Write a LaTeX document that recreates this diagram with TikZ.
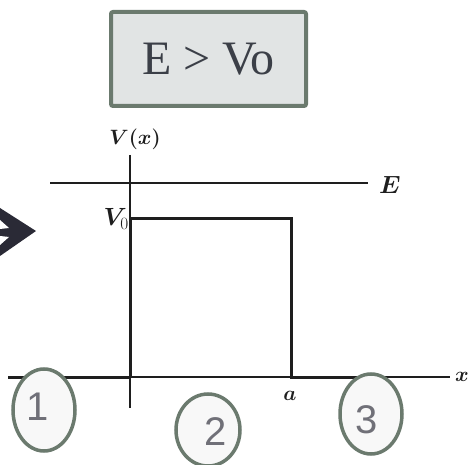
\documentclass[tikz,border=0pt]{standalone}
\usepackage{amsmath,bm}
\usepackage{fontspec}
\setmainfont{Liberation Serif}
\newfontfamily\digitfont{Liberation Sans}
\usetikzlibrary{positioning}
\definecolor{boxfill}{HTML}{E1E4E4}
\definecolor{slategreen}{HTML}{6B7A6E}
\definecolor{inkgray}{HTML}{3B3F47}
\definecolor{digitgray}{HTML}{707078}
\definecolor{ringfill}{HTML}{F8F8F8}
\definecolor{arrowink}{HTML}{2A2A36}
\definecolor{scanink}{HTML}{1E1E1E}

\begin{document}
\begin{tikzpicture}[x=1pt, y=-1pt,
  potential/.style={scanink, line width=3pt, line join=miter},
  axisline/.style={scanink, line width=1.4pt},
  ring/.style={draw=slategreen, line width=3.5pt, fill=ringfill},
  digit/.style={text=digitgray, font=\digitfont\fontsize{40}{42}\selectfont, inner sep=0pt},
  plotlabel/.style={text=scanink, inner sep=0pt}]

% Frame
\useasboundingbox (0,0) rectangle (469,465);

% Condition box
\node[draw=slategreen, line width=4pt, fill=boxfill, rounded corners=2pt,
      minimum width=195pt, minimum height=94pt, text=inkgray,
      font=\fontsize{48}{50}\selectfont] (cond) at (208.5,59) {E > Vo};

% Arrow cut by the left edge
\fill[arrowink] (0,208) -- (36,231) -- (0,256) -- cycle;
\fill[white] (0,220) -- (9,228) -- (0,229) -- cycle;
\fill[white] (0,236) -- (9,237) -- (0,245) -- cycle;

% Axes
\coordinate (origin) at (130,377);
\coordinate (vtop) at (130,155);
\coordinate (vbot) at (130,408);
\coordinate (xleft) at (8,377);
\coordinate (xright) at (450,377);
\draw[axisline] (vtop) -- (vbot);
\draw[axisline] (xleft) -- (xright);

% Energy level
\coordinate (eleft) at (50,183);
\coordinate (eright) at (368,183);
\draw[scanink, line width=1.6pt] (eleft) -- (eright);

% Barrier
\coordinate (btl) at (130,219);
\coordinate (btr) at (291,219);
\coordinate (bbr) at (291,377);
\coordinate (rend) at (380,377);
\draw[potential] (xleft) -- (origin);
\draw[potential] (origin) -- (btl) -- (btr) -- (bbr) -- (rend);

% Labels
\node[plotlabel, font=\fontsize{22}{24}\selectfont] (vlabel) at (135,139) {$\bm{V(x)}$};
\node[plotlabel, font=\fontsize{23}{24}\selectfont, anchor=west] (elabel) at (379,185) {$\bm{E}$};
\node[plotlabel, font=\fontsize{23}{24}\selectfont, anchor=east] (vzero) at (129,219) {$\bm{V}_{0}$};
\node[plotlabel, font=\fontsize{20}{22}\selectfont] (alabel) at (290,396) {$\bm{a}$};
\node[plotlabel, font=\fontsize{21}{22}\selectfont, anchor=west] (xlabel) at (455,377) {$\bm{x}$};

% Regions
\draw[ring] (44,410) ellipse (31 and 41);
\draw[ring] (208,430) ellipse (32 and 36);
\draw[ring] (371,414) ellipse (31 and 40);
\node[digit] (one) at (38,407) {1};
\node[digit] (two) at (216,432) {2};
\node[digit] (three) at (367,420) {3};

\end{tikzpicture}
\end{document}
